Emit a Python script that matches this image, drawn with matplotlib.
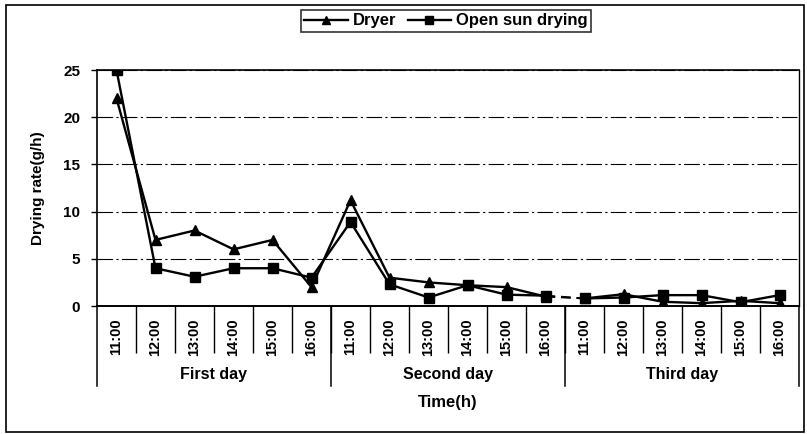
import numpy as np
import matplotlib.pyplot as plt
import matplotlib.transforms as mtransforms

plt.rcParams['font.family'] = ['Liberation Sans', 'DejaVu Sans']
plt.rcParams['font.weight'] = 'bold'

# data
hours = ['11:00', '12:00', '13:00', '14:00', '15:00', '16:00']
days = ['First day', 'Second day', 'Third day']
dryer = [22, 7, 8, 6, 7, 2,
         11.2, 3.0, 2.5, 2.2, 2.0, 1.0,
         0.8, 1.25, 0.45, 0.3, 0.55, 0.3]
opensun = [25, 4, 3.1, 4, 4, 3,
           8.9, 2.3, 0.9, 2.2, 1.2, 1.1,
           0.8, 0.9, 1.15, 1.15, 0.4, 1.15]

labels = hours * len(days)
x = np.arange(len(labels))

fig = plt.figure(figsize=(8.07, 4.34), dpi=100)
ax = fig.add_axes([97/807, 1-306/434, (799-97)/807, (306-70)/434])

# outer frame around the whole chart
fig.patches.append(plt.Rectangle((6/807, 2/434), 798/807, 427/434, transform=fig.transFigure,
                                 fill=False, edgecolor='black', linewidth=1.2))

for y in [5, 10, 15, 20, 25]:
    ax.axhline(y, color='black', linewidth=0.8, linestyle=(0, (14, 3, 2, 3)), zorder=1)

# solid within days 1-2, dashed gap into day 3
for series, mk, ms, lab in [(dryer, '^', 7, 'Dryer'), (opensun, 's', 6.5, 'Open sun drying')]:
    s = np.array(series)
    ax.plot(x[:12], s[:12], color='black', marker=mk, markersize=ms, linewidth=1.7, label=lab, zorder=3)
    ax.plot(x[11:13], s[11:13], color='black', linewidth=1.4, linestyle=(0, (5, 3)), zorder=3)
    ax.plot(x[12:], s[12:], color='black', marker=mk, markersize=ms, linewidth=1.7, zorder=3)

ax.set_xlim(-0.5, len(labels) - 0.5)
ax.set_ylim(0, 25)
ax.set_yticks([0, 5, 10, 15, 20, 25])
ax.tick_params(axis='y', direction='out', length=4, width=1, labelsize=11, pad=8)

# tick labels at centres, boundary ticks between categories
ax.set_xticks(x)
ax.set_xticklabels(labels, rotation=90, fontsize=10.5)
ax.tick_params(axis='x', which='major', length=0, pad=9)
ax.set_xticks(np.arange(0.5, len(labels) - 0.5), minor=True)
ax.tick_params(axis='x', which='minor', direction='out', length=34, width=1)

ax.spines['top'].set_linewidth(1.2)
ax.spines['right'].set_linewidth(1.0)
ax.spines['left'].set_linewidth(1.2)
ax.spines['bottom'].set_linewidth(1.4)

# day group separators and labels
trans = mtransforms.blended_transform_factory(ax.transData, ax.transAxes)
for b in [-0.5, 5.5, 11.5, 17.5]:
    ax.plot([b, b], [0, -80/236], color='black', linewidth=1.1, transform=trans, clip_on=False)
for i, d in enumerate(days):
    ax.text(i * 6 + 2.5, -68/236, d, transform=trans, ha='center', va='center', fontsize=11.5)

ax.text(8.5, -97/236, 'Time(h)', transform=trans, ha='center', va='center', fontsize=12)
fig.text(38/807, 1-188/434, 'Drying rate(g/h)', rotation=90, ha='center', va='center', fontsize=11)

leg = fig.legend(loc='center', bbox_to_anchor=(446/807, 1-21/434), ncol=2, frameon=True,
                 fancybox=False, edgecolor='black', fontsize=12, handlelength=2.6,
                 columnspacing=0.7, handletextpad=0.3, borderpad=0.2, markerscale=0.8)
leg.get_frame().set_linewidth(1.2)

fig.savefig('out.png', dpi=100)
